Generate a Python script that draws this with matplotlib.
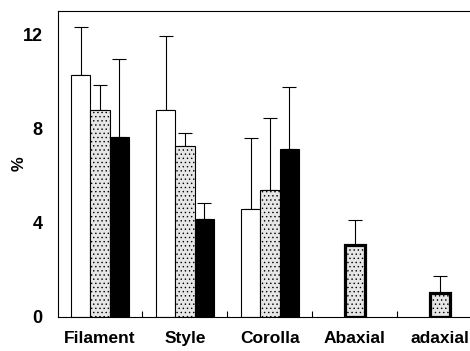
import matplotlib
matplotlib.use("Agg")
import matplotlib.pyplot as plt
import numpy as np

# tissue categories and the three treatments (white, stippled, black)
categories = ["Filament", "Style", "Corolla", "Abaxial", "adaxial"]

white_vals = [10.3, 8.8, 4.6]
white_err = [2.0, 3.15, 3.0]
dotted_vals = [8.8, 7.25, 5.4]
dotted_err = [1.05, 0.55, 3.05]
black_vals = [7.65, 4.15, 7.15]
black_err = [3.3, 0.7, 2.6]

# epidermis surfaces, only one series
surface_vals = [3.05, 1.0]
surface_err = [1.05, 0.75]

yticks = [0, 4, 8, 12]

plt.rcParams["font.family"] = ["Liberation Sans", "DejaVu Sans"]
plt.rcParams["hatch.linewidth"] = 0.5
plt.rcParams["hatch.color"] = "#666666"

fig = plt.figure(figsize=(4.7, 3.51), dpi=100)
ax = fig.add_axes([0.1234, 0.0969, 0.8766, 0.8718])

w = 0.224
x3 = np.arange(3)
x2 = np.arange(3, 5)
ekw = dict(fmt="none", ecolor="black", elinewidth=0.8, capsize=5, capthick=0.8, zorder=1)

def up(err):
    return [np.zeros(len(err)), err]

ax.bar(x3 - w, white_vals, w, color="white", edgecolor="black", linewidth=0.8, zorder=2)
ax.errorbar(x3 - w, white_vals, yerr=up(white_err), **ekw)
ax.bar(x3, dotted_vals, w, color="#e6e6e6", edgecolor="black", linewidth=0.8,
       hatch="....", zorder=2)
ax.errorbar(x3, dotted_vals, yerr=up(dotted_err), **ekw)
ax.bar(x3 + w, black_vals, w, color="black", edgecolor="black", linewidth=0.8, zorder=2)
ax.errorbar(x3 + w, black_vals, yerr=up(black_err), **ekw)

ax.bar(x2, surface_vals, w, color="#e6e6e6", edgecolor="black", linewidth=2.3,
       hatch="....", zorder=2)
ax.errorbar(x2, surface_vals, yerr=up(surface_err), **ekw)

ax.set_xlim(-0.494, 4.353)
ax.set_ylim(0, 13)

ax.set_xticks(np.arange(len(categories)))
ax.set_xticklabels(categories, fontsize=12.5, fontweight="bold")
ax.set_xticks(np.arange(len(categories) - 1) + 0.5, minor=True)
ax.tick_params(axis="x", which="major", length=0, pad=10)
ax.tick_params(axis="x", which="minor", direction="in", length=4, width=0.8)

ax.set_yticks(yticks)
ax.set_yticklabels([str(t) for t in yticks], fontsize=13, fontweight="bold")
ax.tick_params(axis="y", length=0, pad=11)
ax.text(-0.095, 0.5, "%", transform=ax.transAxes, rotation=90,
        ha="center", va="center", fontsize=12, fontweight="bold")

for side in ["left", "top", "bottom"]:
    ax.spines[side].set_linewidth(0.8)
ax.spines["right"].set_visible(False)

fig.savefig("out.png", dpi=100)
